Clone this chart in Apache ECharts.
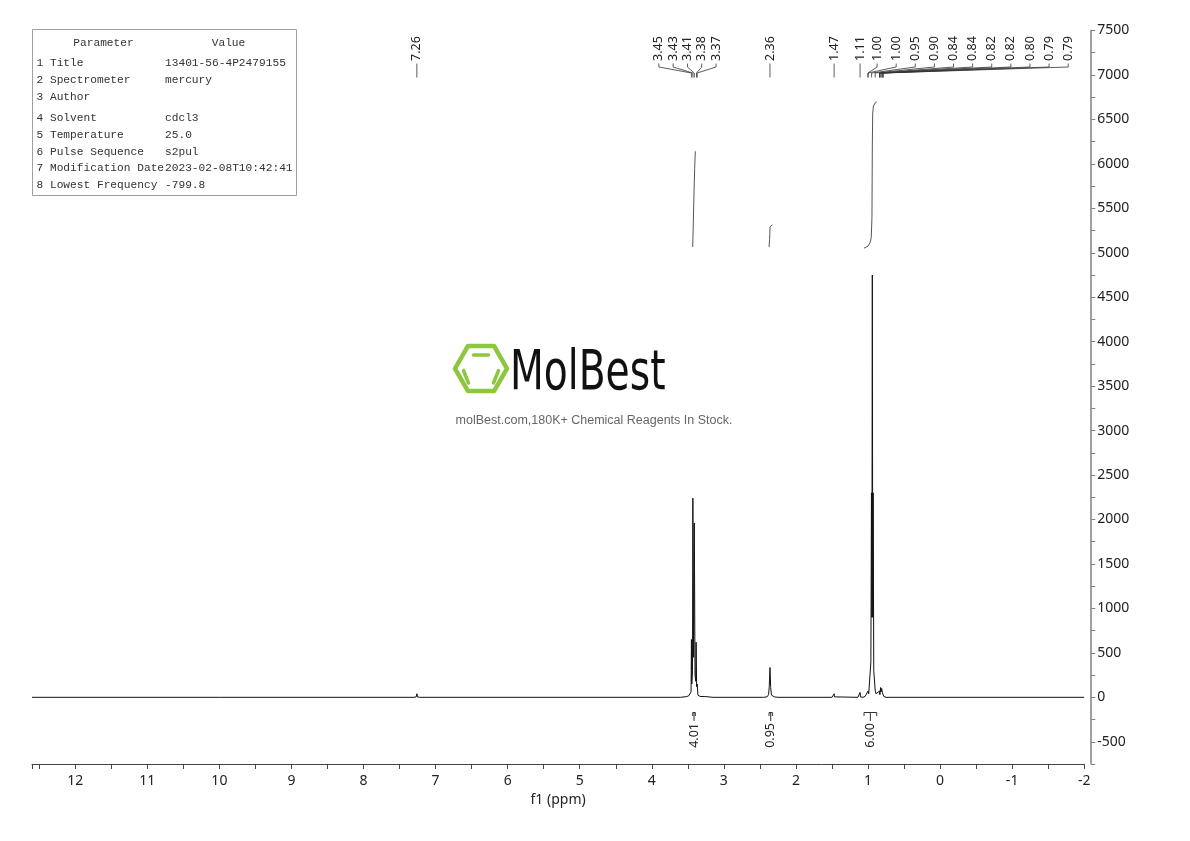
<!DOCTYPE html>
<html><head><meta charset="utf-8">
<script src="https://cdn.jsdelivr.net/npm/echarts@6/dist/echarts.min.js"></script>
<style>html,body{margin:0;padding:0;background:#fff}#c{width:1190px;height:841px}</style>
</head><body><div id="c"></div>
<script>
// ---------------- DATA ----------------
// 1H NMR spectrum points: [ppm, intensity]
const spectrum = [
  [12.6,0],[10.0,0],[7.30,0],[7.27,4],[7.26,40],[7.25,4],[7.22,0],
  [3.60,0],[3.52,8],[3.49,15],[3.47,20],[3.455,60],[3.45,650],[3.445,150],[3.435,300],
  [3.43,2240],[3.42,450],[3.41,1960],[3.40,250],[3.39,180],[3.385,620],[3.378,120],
  [3.37,150],[3.36,25],[3.33,10],[3.25,8],[3.24,18],[3.23,5],[3.15,0],
  [2.45,0],[2.40,5],[2.38,30],[2.37,120],[2.36,335],[2.35,110],[2.34,25],[2.30,5],[2.25,0],
  [1.50,0],[1.475,5],[1.47,40],[1.465,5],[1.44,0],
  [1.14,0],[1.115,5],[1.11,55],[1.105,5],[1.07,0],
  [1.04,10],[1.00,70],[0.99,40],[0.96,400],[0.952,2300],[0.946,900],[0.94,4750],
  [0.934,900],[0.928,2300],[0.92,300],[0.90,80],[0.89,40],[0.88,20],[0.865,40],
  [0.84,70],[0.835,30],[0.825,110],[0.82,60],[0.81,100],[0.80,50],[0.79,40],[0.78,10],
  [0.75,0],[-2,0]
];
// integral curves [ppm, value]
const integral1 = [[3.432,5064],[3.425,5300],[3.415,5650],[3.405,5950],[3.396,6141]];
const integral2 = [[2.373,5064],[2.365,5150],[2.359,5293],[2.345,5312],[2.327,5315]];
const integral3 = [[1.055,5052],[1.00,5075],[0.972,5112],[0.955,5170],[0.945,5400],[0.94,6200],[0.935,6560],[0.925,6650],[0.90,6685],[0.879,6697]];
const integralLabels = ['4.01','0.95','6.00'];
const integralRanges = [[3.432,3.396],[2.373,2.327],[1.055,0.879]];
// peak picking
const peakPpm = [7.26,3.45,3.43,3.41,3.38,3.37,2.36,1.47,1.11,1.00,1.00,0.95,0.90,0.84,0.84,0.82,0.82,0.80,0.79,0.79];
const peakLabels = ['7.26','3.45','3.43','3.41','3.38','3.37','2.36','1.47','1.11','1.00','1.00','0.95','0.90','0.84','0.84','0.82','0.82','0.80','0.79','0.79'];
const peakGroups = [[0],[1,2,3,4,5],[6],[7],[8],[9,10,11,12,13,14,15,16,17,18,19]];
// axes
const xMin = -2, xMax = 12.6, xStep = 0.5;
const yMin = -750, yMax = 7500, yStep = 250;
const xName = 'f1 (ppm)';
// parameter table
const paramHead = ['Parameter','Value'];
const paramKeys = ['1 Title','2 Spectrometer','3 Author','4 Solvent','5 Temperature','6 Pulse Sequence','7 Modification Date','8 Lowest Frequency'];
const paramVals = ['13401-56-4P2479155','mercury','','cdcl3','25.0','s2pul','2023-02-08T10:42:41','-799.8'];
const logoText = 'MolBest';
const logoSub = 'molBest.com,180K+ Chemical Reagents In Stock.';

// ---------------- CHART ----------------
const chart = echarts.init(document.getElementById('c'), null, {renderer:'canvas'});
const FONT = '"Noto Sans", "DejaVu Sans", sans-serif';
const lineSeries = (data, color, w) => ({type:'line', data, showSymbol:false, symbol:'none', animation:false,
  lineStyle:{color, width:w}, silent:true, z:3});
chart.setOption({
  animation:false,
  backgroundColor:'#fff',
  grid:{left:32, right:105.8, top:30.5, height:733.5},
  xAxis:{type:'value', inverse:true, min:xMin, max:xMax, interval:xStep,
    name:xName, nameLocation:'middle', nameGap:28,
    nameTextStyle:{fontFamily:FONT, fontSize:14, color:'#222'},
    axisLine:{onZero:false, lineStyle:{color:'#444', width:1}},
    axisTick:{length:5, lineStyle:{color:'#444'}},
    axisLabel:{fontFamily:FONT, fontSize:14, color:'#222', margin:10,
      formatter:v => Number.isInteger(v) ? String(v) : ''},
    splitLine:{show:false}},
  yAxis:{type:'value', position:'right', offset:7, min:yMin, max:yMax, interval:yStep,
    axisLine:{show:true, onZero:false, lineStyle:{color:'#808080', width:1.5}},
    axisTick:{show:true, length:4, lineStyle:{color:'#808080'}},
    axisLabel:{fontFamily:FONT, fontSize:14, color:'#222', margin:6,
      formatter:v => (v % 500 === 0) ? String(v) : ''},
    splitLine:{show:false}},
  series:[
    lineSeries(spectrum, '#111', 1),
    lineSeries(integral1, '#555', 1),
    lineSeries(integral2, '#555', 1),
    lineSeries(integral3, '#555', 1)
  ]
});

// ---------------- ANNOTATIONS ----------------
const px = p => chart.convertToPixel({xAxisIndex:0}, p);
const grid = chart.getModel().getComponent('grid').coordinateSystem.getRect();
const gridRight = grid.x + grid.width;
const g = [];
const LABEL_FONT = '12.5px ' + FONT;

// peak labels layout
const labelX = new Array(peakPpm.length);
let prevX = null;
peakGroups.forEach((grp, gi) => {
  const pxs = grp.map(i => px(peakPpm[i]));
  if (grp.length === 1) {
    labelX[grp[0]] = pxs[0];
  } else if (gi === peakGroups.length - 1) {
    const start = prevX + 17, end = gridRight - 16;
    const step = (end - start) / (grp.length - 1);
    grp.forEach((i, k) => labelX[i] = start + k * step);
  } else {
    const mean = pxs.reduce((a,b)=>a+b,0) / pxs.length - 7;
    const sp = 14.3;
    grp.forEach((i, k) => labelX[i] = mean + (k - (grp.length-1)/2) * sp);
  }
  prevX = labelX[grp[grp.length-1]];
});
peakPpm.forEach((p, i) => {
  const lx = labelX[i], pX = px(p);
  g.push({type:'text', x:lx, y:61, rotation:Math.PI/2, silent:true,
    style:{text:peakLabels[i], font:LABEL_FONT, fill:'#222', align:'left', verticalAlign:'middle'}});
  g.push({type:'polyline', silent:true,
    shape:{points:[[lx,63.5],[lx,67],[pX,73],[pX,77.5]]},
    style:{stroke:'#333', lineWidth:0.8, fill:null}});
});

// integral labels (bottom)
integralRanges.forEach((r, i) => {
  const x1 = px(r[0]), x2 = px(r[1]), xc = (x1 + x2) / 2;
  g.push({type:'polyline', silent:true, shape:{points:[[x1,716],[x1,712.5],[x2,712.5],[x2,716]]},
    style:{stroke:'#333', lineWidth:1, fill:null}});
  g.push({type:'line', silent:true, shape:{x1:xc, y1:712.5, x2:xc, y2:721},
    style:{stroke:'#333', lineWidth:1}});
  g.push({type:'text', x:xc, y:723, rotation:Math.PI/2, silent:true,
    style:{text:integralLabels[i], font:LABEL_FONT, fill:'#222', align:'right', verticalAlign:'middle'}});
});

// parameter table
const tblFont = '11.2px "Liberation Mono", "DejaVu Sans Mono", monospace';
g.push({type:'rect', silent:true, shape:{x:32.5, y:29.5, width:264, height:166},
  style:{fill:'#fff', stroke:'#a0a0a0', lineWidth:1}, z:10});
g.push({type:'text', x:103.5, y:43, silent:true, z:11,
  style:{text:paramHead[0], font:tblFont, fill:'#333', align:'center', verticalAlign:'middle'}});
g.push({type:'text', x:228.5, y:43, silent:true, z:11,
  style:{text:paramHead[1], font:tblFont, fill:'#333', align:'center', verticalAlign:'middle'}});
const rowY = [63,80,97,118,135,152,168,185];
paramKeys.forEach((k, i) => {
  g.push({type:'text', x:36.5, y:rowY[i], silent:true, z:11,
    style:{text:k, font:tblFont, fill:'#333', align:'left', verticalAlign:'middle'}});
  g.push({type:'text', x:165, y:rowY[i], silent:true, z:11,
    style:{text:paramVals[i], font:tblFont, fill:'#333', align:'left', verticalAlign:'middle'}});
});

// watermark logo
const cx = 481, cy = 368.5, R = 26;
const hex = [];
for (let k = 0; k < 6; k++) { const a = k * Math.PI / 3; hex.push([cx + R*Math.cos(a), cy + R*Math.sin(a)]); }
g.push({type:'polygon', silent:true, shape:{points:hex}, style:{fill:null, stroke:'#8DC63F', lineWidth:4.5, lineJoin:'round'}, z:1});
g.push({type:'line', silent:true, shape:{x1:cx-7.5, y1:cy-13.5, x2:cx+7.5, y2:cy-13.5}, style:{stroke:'#8DC63F', lineWidth:3.5, lineCap:'round'}, z:1});
g.push({type:'line', silent:true, shape:{x1:cx-17.5, y1:cy+2, x2:cx-12.5, y2:cy+14.5}, style:{stroke:'#8DC63F', lineWidth:3.5, lineCap:'round'}, z:1});
g.push({type:'line', silent:true, shape:{x1:cx+17.5, y1:cy+2, x2:cx+12.5, y2:cy+14.5}, style:{stroke:'#8DC63F', lineWidth:3.5, lineCap:'round'}, z:1});
g.push({type:'text', x:510, y:374, scaleX:0.7, silent:true, z:1,
  style:{text:logoText, font:'56px "DejaVu Sans", sans-serif', fill:'#111', align:'left', verticalAlign:'middle'}});
g.push({type:'text', x:594, y:421, silent:true, z:1,
  style:{text:logoSub, font:'12.5px "Liberation Sans", Arial, sans-serif', fill:'#666', align:'center', verticalAlign:'middle'}});

chart.setOption({graphic:{elements:g}});
</script>
</body></html>
